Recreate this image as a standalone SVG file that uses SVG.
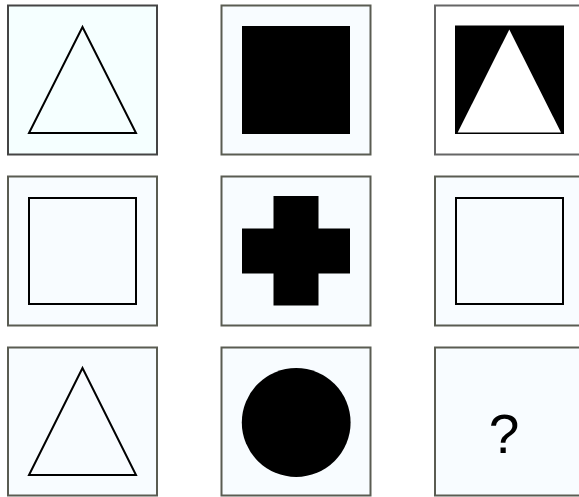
<svg xmlns="http://www.w3.org/2000/svg" width="579" height="497" viewBox="0 0 579 497">
<style>
.frame{fill:#f8fcff;stroke:#5a5c52;stroke-width:2}
.frame1{fill:#f5ffff;stroke:#444444;stroke-width:2}
.frame3{fill:#ffffff;stroke:#666666;stroke-width:2}
.outline{fill:none;stroke:#000;stroke-width:2}
.solid{fill:#000;stroke:none}
.q{font-family:"Liberation Sans",Arial,sans-serif;font-size:55px;fill:#000}
</style>
<rect width="579" height="497" fill="#ffffff"/>
<g id="cell-1-1">
<rect class="frame1" x="8" y="5.5" width="149" height="149"/>
<polygon class="outline" points="82.5,27 29,133 136,133"/>
</g>
<g id="cell-1-2">
<rect class="frame" x="221.5" y="5.5" width="149" height="149"/>
<rect class="solid" x="242" y="26" width="108" height="108"/>
</g>
<g id="cell-1-3">
<rect class="frame3" x="435" y="5.5" width="149" height="149"/>
<rect class="solid" x="455" y="25.5" width="109" height="108.5"/>
<polygon fill="#ffffff" points="509.3,29.5 457.7,132.5 561,132.5"/>
</g>
<g id="cell-2-1">
<rect class="frame" x="8" y="176.5" width="149" height="149"/>
<rect class="outline" x="29" y="198" width="107" height="106"/>
</g>
<g id="cell-2-2">
<rect class="frame" x="221.5" y="176.5" width="149" height="149"/>
<rect class="solid" x="273.5" y="196" width="45" height="109.5"/>
<rect class="solid" x="242" y="228.5" width="108" height="45"/>
</g>
<g id="cell-2-3">
<rect class="frame" x="435" y="176.5" width="149" height="149"/>
<rect class="outline" x="456" y="198" width="107" height="106"/>
</g>
<g id="cell-3-1">
<rect class="frame" x="8" y="347.5" width="149" height="148"/>
<polygon class="outline" points="82.5,368 29,475 136,475"/>
</g>
<g id="cell-3-2">
<rect class="frame" x="221.5" y="347.5" width="149" height="148"/>
<circle class="solid" cx="296.2" cy="422.5" r="54.4"/>
</g>
<g id="cell-3-3">
<rect class="frame" x="435" y="347.5" width="149" height="148"/>
<text class="q" x="504" y="453" text-anchor="middle">?</text>
</g>
<g id="connectors"/>
</svg>
